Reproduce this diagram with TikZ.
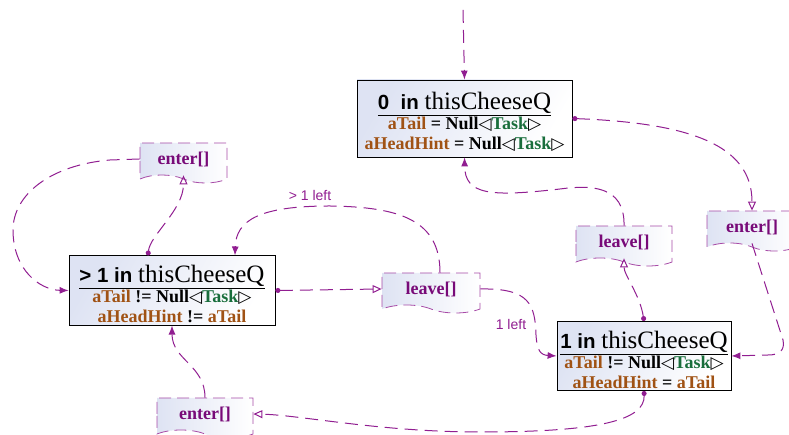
\documentclass[tikz,border=0pt]{standalone}
\usepackage{fontspec}
\setmainfont{Liberation Serif}
\setsansfont{Liberation Sans}
\newfontfamily\symfont{DejaVu Sans}
\usetikzlibrary{arrows.meta,shapes.symbols}
\definecolor{flowcol}{RGB}{145,30,145}
\definecolor{evtext}{RGB}{120,10,120}
\definecolor{vartext}{RGB}{160,82,20}
\definecolor{typetext}{RGB}{25,110,60}
\definecolor{boxbg}{RGB}{222,227,243}
\newcommand{\vname}[1]{\textcolor{vartext}{#1}}
\newcommand{\tname}[1]{\textcolor{typetext}{#1}}
\newcommand{\ltri}{{\symfont\bfseries\fontsize{17}{17}\selectfont ◁}}
\newcommand{\rtri}{{\symfont\bfseries\fontsize{17}{17}\selectfont ▷}}
\newcommand{\sttitle}[1]{\rule{0pt}{25pt}\underline{\hbox{\sffamily\bfseries\fontsize{20.5}{24}\selectfont #1\ }\hbox{\mdseries\fontsize{25}{28}\selectfont thisCheeseQ}}}

\tikzset{
	state/.style={draw=black, line width=0.8pt, left color=boxbg, right color=white, shading angle=60, align=center, inner sep=2pt, font=\bfseries\fontsize{18}{20}\selectfont},
	event/.style={tape, tape bend top=none, tape bend bottom=out and in, tape bend height=8pt, draw=flowcol!80, line width=0.8pt, dash pattern=on 12pt off 6pt, left color=boxbg, right color=white, text=evtext, font=\bfseries\fontsize{18}{20}\selectfont, minimum height=40pt},
	flowline/.style={draw=flowcol, line width=1pt, dash pattern=on 13pt off 7pt},
	tostate/.style={flowline, -{Latex[length=9pt,width=7pt]}},
	toevent/.style={flowline, {Circle[length=5pt]}-{Triangle[open,length=9pt,width=8pt]}},
	lbl/.style={text=flowcol, font=\sffamily\fontsize{14}{16}\selectfont}
}

\begin{document}
\begin{tikzpicture}[x=1pt, y=1pt]
			%%%%% START %%%%%
			\useasboundingbox (0,0) rectangle (789,435);
			
			% states
			\node[state, minimum width=215pt, minimum height=77pt] (s0) at (464.5,316.5) {\sttitle{0\ \ in}\\ \vname{aTail} = Null\ltri\tname{Task}\rtri\\ \vname{aHeadHint} = Null\ltri\tname{Task}\rtri};
			\node[state, minimum width=206pt, minimum height=65pt] (sgt1) at (172,144.5) {\sttitle{> 1 in}\\ \vname{aTail} != Null\ltri\tname{Task}\rtri\\ \vname{aHeadHint} != \vname{aTail}};
			\node[state, minimum width=174pt, minimum height=66pt] (s1) at (644,79) {\sttitle{1 in}\\ \vname{aTail} != Null\ltri\tname{Task}\rtri\\ \vname{aHeadHint} = \vname{aTail}};
			
			% events
			\node[event, minimum width=87pt] (enterA) at (183.5,276) {enter[]};
			\node[event, minimum width=98pt] (leaveA) at (431,146) {leave[]};
			\node[event, minimum width=96pt] (leaveB) at (624,193) {leave[]};
			\node[event, minimum width=90pt] (enterB) at (752,208) {enter[]};
			\node[event, minimum width=96pt] (enterC) at (205,21) {enter[]};
			
			\coordinate (init) at (463,425);
			
			% transitions
			\draw[tostate] (init) -- (s0.north);
			\draw[toevent] (s0.east) .. controls (690,312) and (752,290) .. (enterB.north);
			\draw[tostate] (enterB.south) -- (783,95) .. controls (785,85) and (780,80) .. (768,80) -- (s1.east);
			\draw[toevent] (s1.north) .. controls (640,140) and (624,160) .. (leaveB.south);
			\draw[tostate] (leaveB.north) .. controls (625,250) and (590,250) .. (560,246) .. controls (490,238) and (465,240) .. (s0.south);
			\draw[toevent] (s1.south) .. controls (645,15) and (600,3) .. (480,3) .. controls (380,3) and (300,20) .. (enterC.east);
			\draw[tostate] (enterC.north) .. controls (205,70) and (172,75) .. (sgt1.south);
			\draw[toevent] ([xshift=-24pt]sgt1.north) .. controls (150,200) and (183.5,225) .. (enterA.south);
			\draw[tostate] (enterA.west) -- (110,275) .. controls (50,270) and (13,240) .. (13,205) .. controls (13,165) and (40,145) .. (sgt1.west);
			\draw[toevent] (sgt1.east) -- (leaveA.west);
			\draw[tostate] ([xshift=9pt]leaveA.north) .. controls (440,215) and (400,228) .. (330,229) node[lbl, above, xshift=-20pt, yshift=2pt] {> 1 left} .. controls (260,229) and (236,215) .. ([xshift=63pt]sgt1.north);
			\draw[tostate] (leaveA.east) .. controls (530,147) and (535,130) .. (536,100) node[lbl, left, xshift=-6pt, yshift=10pt] {1 left} .. controls (537,85) and (540,80) .. (s1.west);
			
			%%%%% END %%%%%
\end{tikzpicture}
\end{document}
